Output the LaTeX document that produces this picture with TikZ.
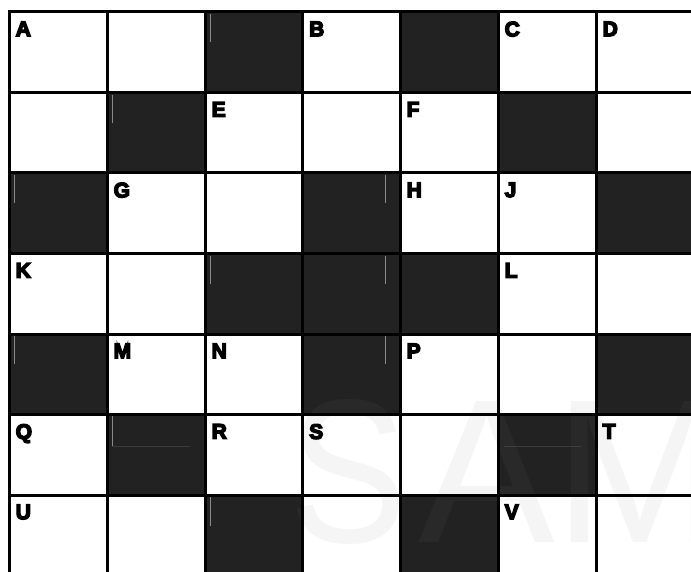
\documentclass[tikz,border=0pt]{standalone}
\usepackage{fontspec}
\setmainfont{Liberation Sans}
\newfontfamily\cluefont{Liberation Sans}
\newfontfamily\wmfont{Liberation Sans}
\newcommand\heavytext[1]{\special{pdf:literal direct 2 Tr 1.4 w 0 0 0 RG}#1\special{pdf:literal direct 0 Tr}}
\definecolor{cellblack}{HTML}{222222}
\definecolor{artifact}{HTML}{8A8A8A}
\definecolor{artifactdark}{HTML}{3A3A3A}
\begin{document}
\begin{tikzpicture}[x=1pt,y=-1pt,
  gridline/.style={line width=3pt,black},
  darkcell/.style={fill=cellblack},
  cluelabel/.style={anchor=north west,inner sep=0pt,font=\cluefont\bfseries\fontsize{21}{21}\selectfont,text=black},
  wmletter/.style={anchor=base,inner sep=0pt,font=\wmfont\fontsize{205}{205}\selectfont,text=gray,text opacity=0.08},
  glitch/.style={line width=1pt,artifact},
  glitchdark/.style={line width=1pt,artifactdark}]
\useasboundingbox (0,0) rectangle (691,572);
\fill[white] (0,0) rectangle (691,572);
% column and row edges
\def\cx{{9,107,205,302.5,400,498,596,694}}
\def\ry{{12,92.5,173,253.5,334,414.5,495,575.5}}
% dark cells (row,col)
\foreach \r/\c in {0/2,0/4,1/1,1/5,2/0,2/3,2/6,3/2,3/3,3/4,4/0,4/3,4/6,5/1,5/5,6/2,6/4}{
  \pgfmathsetmacro{\xa}{\cx[\c]}
  \pgfmathsetmacro{\xb}{\cx[\c+1]}
  \pgfmathsetmacro{\ya}{\ry[\r]}
  \pgfmathsetmacro{\yb}{\ry[\r+1]}
  \fill[darkcell] (\xa,\ya) rectangle (\xb,\yb);
}
% faint artifact strokes inside dark cells
\draw[glitch] (210,14) -- (210,42);
\draw[glitch] (112,95) -- (112,123);
\draw[glitch] (14,175) -- (14,203);
\draw[glitch] (385,175) -- (385,203);
\draw[glitch] (210.5,256) -- (210.5,284);
\draw[glitch] (385,256) -- (385,284);
\draw[glitch] (14,336) -- (14,364);
\draw[glitch] (385,336) -- (385,364);
\draw[glitch] (112,416) -- (112,446);
\draw[glitchdark] (112,446) -- (190,446);
\draw[glitchdark] (504,446) -- (581,446);
\draw[glitch] (210,497) -- (210,526);
% watermark
\node[wmletter,xscale=0.86] (wmS) at (348,542) {S};
\node[wmletter] (wmA) at (487,542) {A};
\node[wmletter] (wmM) at (640,542) {M};
% grid lines
\foreach \i in {0,...,7}{
  \pgfmathsetmacro{\xx}{\cx[\i]}
  \draw[gridline] (\xx,10.5) -- (\xx,580);
  \pgfmathsetmacro{\yy}{\ry[\i]}
  \draw[gridline] (7.5,\yy) -- (700,\yy);
}
% clue letters
\foreach \r/\c/\t in {0/0/A,0/3/B,0/5/C,0/6/D,1/2/E,1/4/F,2/1/G,2/4/H,2/5/J,3/0/K,3/5/L,4/1/M,4/2/N,4/4/P,5/0/Q,5/2/R,5/3/S,5/6/T,6/0/U,6/5/V}{
  \pgfmathsetmacro{\lx}{\cx[\c]+6.5}
  \pgfmathsetmacro{\ly}{\ry[\r]+9.5}
  \node[cluelabel] (lab\t) at (\lx,\ly) {\heavytext{\t}};
}
\end{tikzpicture}
\end{document}
